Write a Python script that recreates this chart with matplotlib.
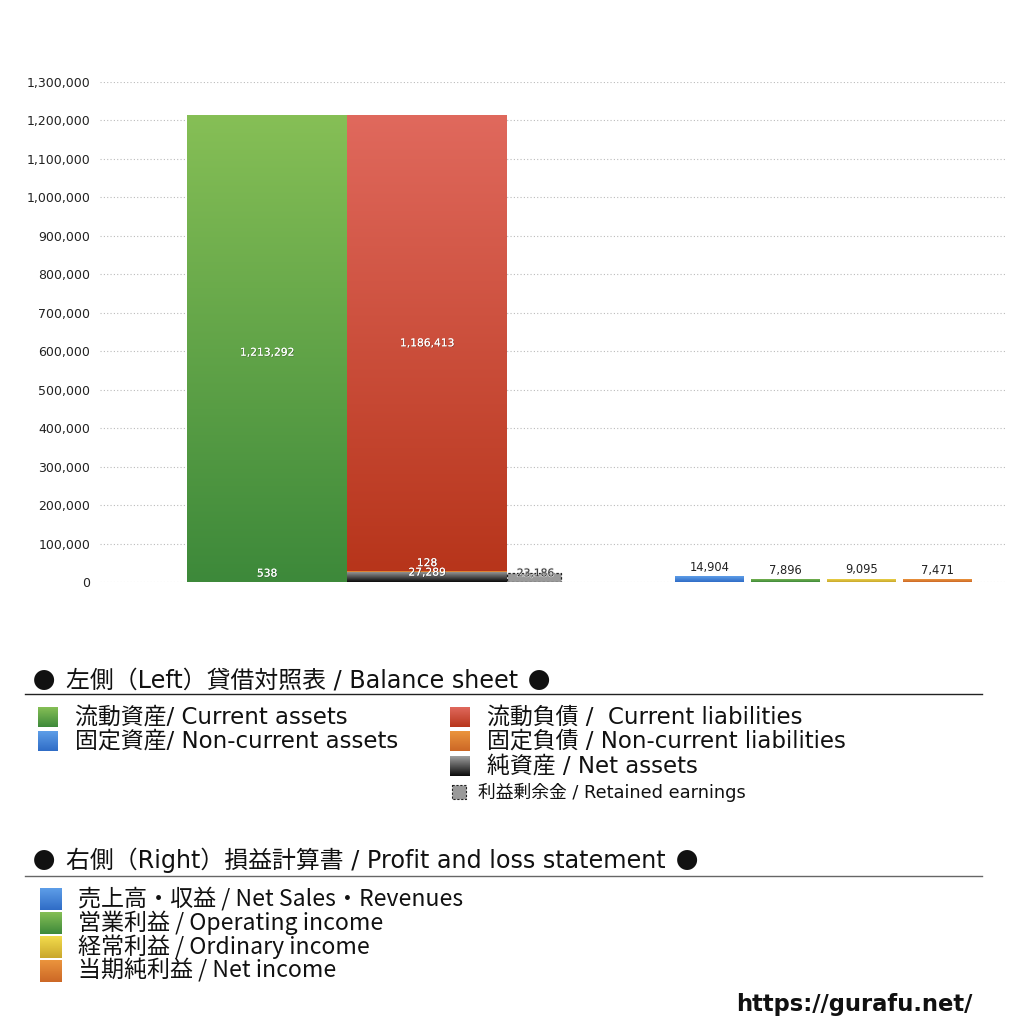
import matplotlib as mpl
mpl.use('Agg')
import matplotlib.pyplot as plt
import matplotlib.ticker as tick
import matplotlib.patheffects as pe
from matplotlib.colors import LinearSegmentedColormap
import numpy as np

plt.rcParams['font.family'] = ['Noto Sans CJK JP', 'DejaVu Sans']
WIDE = ['DejaVu Sans', 'Noto Sans CJK JP']   # Latin を広めに

# 左側 貸借対照表 (Balance sheet)
non_current_assets = 538
current_assets = 1213292
net_assets = 27289
non_current_liabilities = 128
current_liabilities = 1186413
retained_earnings = 23186

# 右側 損益計算書 (Profit and loss)
pl_values = [14904, 7896, 9095, 7471]

yticks = list(range(0, 1300001, 100000))

# colours (top, bottom)
c_green = ('#86bf56', '#3d893a')
c_blue = ('#5e9ee8', '#2f6cc6')
c_red = ('#e0695d', '#b7351b')
c_orange = ('#eb953d', '#cc6726')
c_black = ('#a0a0a0', '#0a0a0a')
c_yellow = ('#f3dc4c', '#c9a72c')


def gradient(ax, x0, x1, y_bot, y_top, cols, clip=None, z=2):
    cmap = LinearSegmentedColormap.from_list('g', [cols[1], cols[0]])
    img = ax.imshow(np.linspace(0, 1, 256).reshape(-1, 1), cmap=cmap, origin='lower',
                    extent=(x0, x1, y_bot, y_top), aspect='auto', zorder=z, interpolation='bilinear')
    if clip is not None:
        img.set_clip_path(clip)
    return img


def gbar(ax, x, h, w, bottom, cols):
    b = ax.bar(x, h, w, bottom=bottom, color=cols[1], linewidth=0, zorder=2)[0]
    gradient(ax, x - w / 2, x + w / 2, bottom, bottom + h, cols, clip=b)
    return b


fig = plt.figure(figsize=(10.24, 10.24), dpi=100)
ax = fig.add_axes([100 / 1024, (1024 - 582) / 1024, 905 / 1024, 500 / 1024])

# x: 位置 (axes 内の px 単位)
x_assets, x_liab, x_ret = 167, 327, 434
w_big, w_ret = 160, 54
x_pl = [609.5, 685.5, 761.5, 837.5]
w_pl = 69

shadow = [pe.withSimplePatchShadow(offset=(0.5, -0.5), shadow_rgbFace='#222222', alpha=0.45), pe.Normal()]
lab_kw = dict(ha='center', va='center', fontsize=7.7, color='white', path_effects=shadow,
              textcoords='offset points', zorder=5, family=['DejaVu Sans'])

# 資産
gbar(ax, x_assets, non_current_assets, w_big, 0, c_blue)
gbar(ax, x_assets, current_assets, w_big, non_current_assets, c_green)
ax.annotate(f'{non_current_assets:,}', (x_assets, non_current_assets / 2), xytext=(0, 6), **lab_kw)
ax.annotate(f'{current_assets:,}', (x_assets, non_current_assets + current_assets / 2), xytext=(0, -3), **lab_kw)

# 負債・純資産
gbar(ax, x_liab, net_assets, w_big, 0, c_black)
gbar(ax, x_liab, non_current_liabilities, w_big, net_assets, c_orange)
b0 = net_assets + non_current_liabilities
gbar(ax, x_liab, current_liabilities, w_big, b0, c_red)
ax.annotate(f'{net_assets:,}', (x_liab, net_assets / 2), xytext=(0, 3), **lab_kw)
ax.annotate(f'{non_current_liabilities:,}', (x_liab, net_assets + non_current_liabilities / 2), xytext=(0, 6), **lab_kw)
ax.annotate(f'{current_liabilities:,}', (x_liab, b0 + current_liabilities / 2), xytext=(0, 0), **lab_kw)

# 利益剰余金
ax.bar(x_ret, retained_earnings, w_ret, color='#9a9a9a', edgecolor='#222222', linewidth=0.9,
       linestyle=(0, (2, 1.5)), zorder=2)
ax.annotate(f'{retained_earnings:,}', (x_ret, retained_earnings / 2), xytext=(1, 3),
            ha='center', va='center', fontsize=7.7, color='#333333', textcoords='offset points',
            family=['DejaVu Sans'],
            path_effects=[pe.withStroke(linewidth=1.0, foreground='#e0e0e0')], zorder=5)

# 損益計算書
for xp, v, cols in zip(x_pl, pl_values, [c_blue, c_green, c_yellow, c_orange]):
    gbar(ax, xp, v, w_pl, 0, cols)
    ax.annotate(f'{v:,}', (xp, v), xytext=(0, 1.5), textcoords='offset points', family=['DejaVu Sans'],
                ha='center', va='bottom', fontsize=8.3, color='#222222', zorder=5)

ax.set_xlim(0, 905)
ax.set_ylim(0, 1300000)
ax.set_yticks(yticks)
ax.yaxis.set_major_formatter(tick.FuncFormatter(lambda v, p: f'{int(v):,}'))
ax.set_xticks([])
ax.grid(axis='y', linestyle=(0, (1, 2)), color='#bbbbbb', linewidth=0.8, zorder=0)
ax.tick_params(axis='y', length=0, pad=7, labelsize=9, labelcolor='#222222')
for lbl in ax.get_yticklabels():
    lbl.set_family('DejaVu Sans')
for s in ax.spines.values():
    s.set_visible(False)

# 凡例 (figure px 座標)
lg = fig.add_axes([0, 0, 1, 1], zorder=-1)
lg.set_xlim(0, 1024)
lg.set_ylim(1024, 0)
lg.axis('off')
renderer = fig.canvas.get_renderer()


def lsquare(x, y, s, cols):
    gradient(lg, x, x + s, y + s / 2, y - s / 2, cols)


def heading(y, title):
    lg.text(33, y + 2, '●', fontsize=16, va='center', ha='left', color='#111111')
    t = lg.text(66, y, title, fontsize=17.2, va='center', ha='left', color='#111111', family=WIDE)
    x_end = t.get_window_extent(renderer).x1
    lg.text(x_end + 10, y + 2, '●', fontsize=16, va='center', ha='left', color='#111111')


heading(680, '左側（Left）貸借対照表 / Balance sheet')
lg.plot([25, 982], [694, 694], color='#222222', linewidth=1)

left_items = [('流動資産/ Current assets', c_green), ('固定資産/ Non-current assets', c_blue)]
right_items = [('流動負債 /  Current liabilities', c_red), ('固定負債 / Non-current liabilities', c_orange),
               ('純資産 / Net assets', c_black)]
for i, (t, cols) in enumerate(left_items):
    y = 717 + i * 24.5
    lsquare(38, y, 20, cols)
    lg.text(75, y, t, fontsize=16.5, va='center', ha='left', color='#111111', family=WIDE)
for i, (t, cols) in enumerate(right_items):
    y = 717 + i * 24.5
    lsquare(450, y, 20, cols)
    lg.text(487, y, t, fontsize=16.5, va='center', ha='left', color='#111111', family=WIDE)
lg.add_patch(plt.Rectangle((452, 785), 14, 14, facecolor='#9a9a9a', edgecolor='#222222',
                           linewidth=0.8, linestyle=(0, (2, 1.5))))
lg.text(478, 792, '利益剰余金 / Retained earnings', fontsize=12.8, va='center', ha='left',
        color='#111111', family=WIDE)

heading(860, '右側（Right）損益計算書 / Profit and loss statement')
lg.plot([25, 982], [876, 876], color='#666666', linewidth=1)

pl_items = [('売上高・収益 / Net Sales・Revenues', c_blue), ('営業利益 / Operating income', c_green),
            ('経常利益 / Ordinary income', c_yellow), ('当期純利益 / Net income', c_orange)]
for i, (t, cols) in enumerate(pl_items):
    y = 899 + i * 24
    lsquare(40, y, 22, cols)
    lg.text(78, y, t, fontsize=16.6, va='center', ha='left', color='#111111')

lg.text(972, 1004, 'https://gurafu.net/', fontsize=16.3, fontweight='bold', va='center', ha='right',
        family=['DejaVu Sans'], color='#111111')

plt.savefig('out.png', dpi=100)
